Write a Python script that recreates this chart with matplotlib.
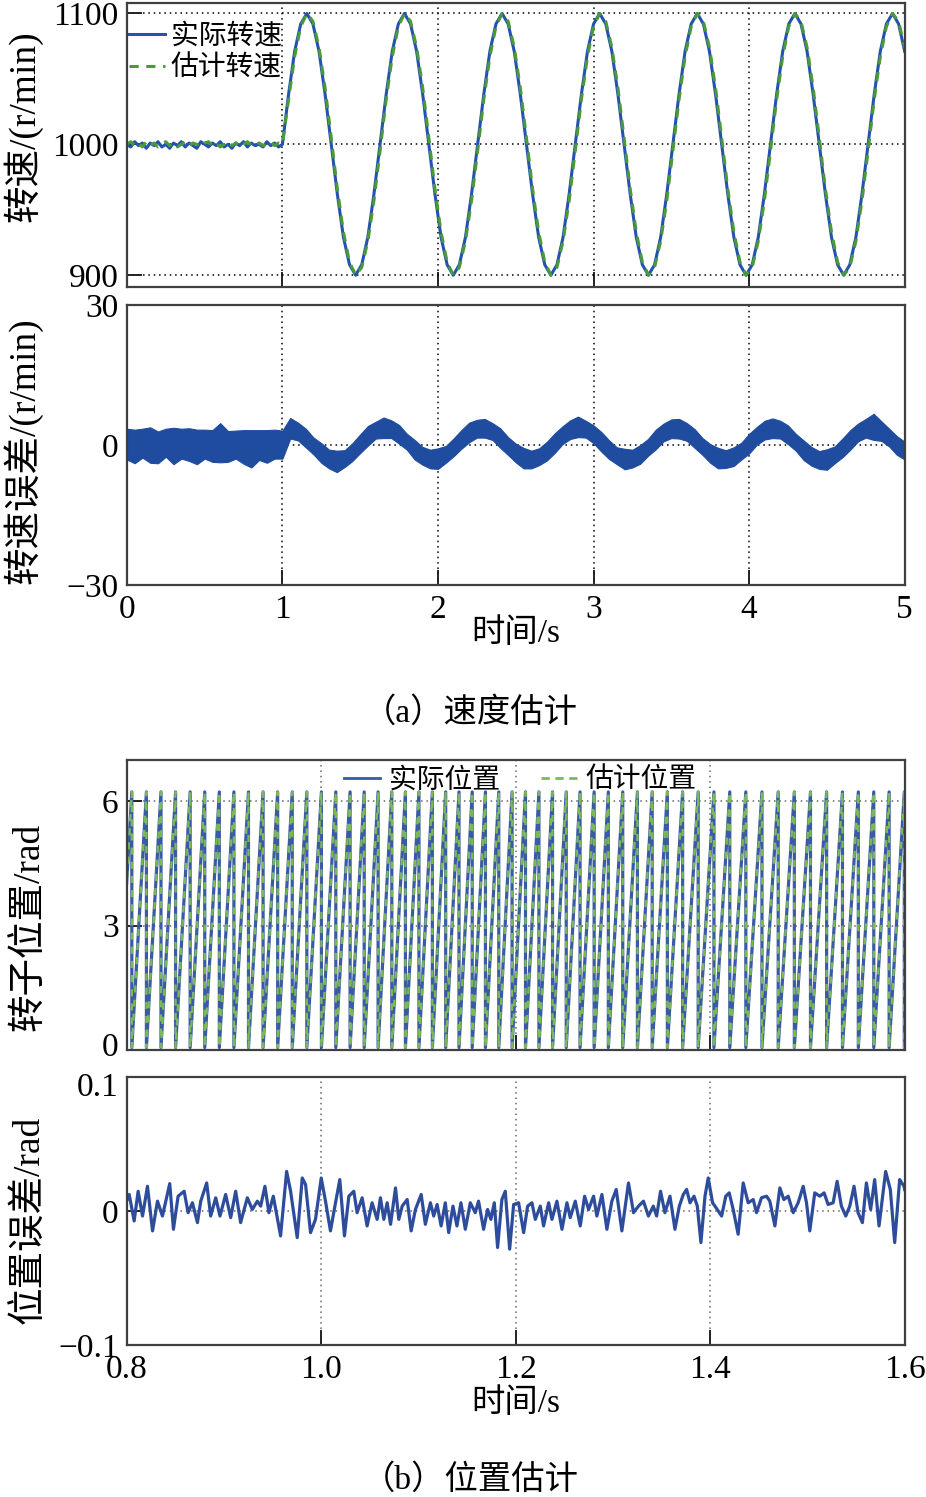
import matplotlib
matplotlib.use('Agg')
import matplotlib.pyplot as plt
import matplotlib.transforms as mtransforms
import numpy as np
from matplotlib.lines import Line2D

plt.rcParams['font.family'] = ['Liberation Serif', 'Noto Sans CJK SC']
plt.rcParams['axes.unicode_minus'] = True

# ---------------- data ----------------
# (a) speed, 0-1 s steady part (41 samples, 0.025 s apart)
flat_actual = [1000, 998, 1002, 999, 1001, 997, 1001, 999, 1002, 998, 1000,
               997, 1001, 999, 1002, 998, 1001, 999, 997, 1002, 1000,
               998, 1001, 999, 1002, 998, 1000, 997, 1001, 999, 1002,
               998, 1001, 999, 1000, 998, 1002, 999, 1001, 998, 1000]
flat_est = [1000, 1002, 999, 1001, 998, 1002, 999, 1001, 998, 1000, 1002,
            999, 1001, 998, 1000, 1002, 999, 1001, 1000, 998, 1001,
            1002, 999, 1001, 998, 1000, 1002, 999, 1001, 998, 1000,
            1002, 999, 1000, 1001, 999, 1000, 1002, 999, 1001, 1000]
# (a) speed, 1-5 s sinusoidal part (103 samples evenly spread)
speed_actual = [
    1000, 1038, 1071, 1092, 1100, 1092, 1071, 1038, 1000, 962, 929, 908, 900, 908, 929, 962,
    1000, 1038, 1071, 1092, 1100, 1092, 1071, 1038, 1000, 962, 929, 908, 900, 908, 929, 962,
    1000, 1038, 1071, 1092, 1100, 1092, 1071, 1038, 1000, 962, 929, 908, 900, 908, 929, 962,
    1000, 1038, 1071, 1092, 1100, 1092, 1071, 1038, 1000, 962, 929, 908, 900, 908, 929, 962,
    1000, 1038, 1071, 1092, 1100, 1092, 1071, 1038, 1000, 962, 929, 908, 900, 908, 929, 962,
    1000, 1038, 1071, 1092, 1100, 1092, 1071, 1038, 1000, 962, 929, 908, 900, 908, 929, 962,
    1000, 1038, 1071, 1092, 1100, 1092, 1071]
speed_est = [
    1000, 1034, 1067, 1090, 1100, 1094, 1074, 1043, 1005, 966, 933, 910, 900, 906, 926, 957,
    995, 1034, 1067, 1090, 1100, 1094, 1074, 1043, 1005, 966, 933, 910, 900, 906, 926, 957,
    995, 1034, 1067, 1090, 1100, 1094, 1074, 1043, 1005, 966, 933, 910, 900, 906, 926, 957,
    995, 1034, 1067, 1090, 1100, 1094, 1074, 1043, 1005, 966, 933, 910, 900, 906, 926, 957,
    995, 1034, 1067, 1090, 1100, 1094, 1074, 1043, 1005, 966, 933, 910, 900, 906, 926, 957,
    995, 1034, 1067, 1090, 1100, 1094, 1074, 1043, 1005, 966, 933, 910, 900, 906, 926, 957,
    995, 1034, 1067, 1090, 1100, 1094, 1074]

# (a) speed error band: middle and half-thickness, 0-5 s every 0.05 s
err_mid = [0.2, -0.3, 0.4, 0.0, -0.5, 0.5, -0.2, 0.3, 0.1, -0.4, 0.2,
           -0.2, 0.5, -0.3, 0.1, -0.4, -0.8, 0.0, -0.3, 0.2, 0.1,
           3.6, 2.9, 1.5, -0.2, -1.7, -3.0, -3.5, -2.9, -1.5, 0.3, 2.0, 3.2, 3.7,
           3.4, 2.3, 0.7, -1.0, -2.3, -3.0, -2.9, -2.0, -0.5, 1.2, 2.7, 3.5,
           3.6, 2.9, 1.5, -0.2, -1.7, -2.8, -3.1, -2.5, -1.3, 0.4, 2.1, 3.3, 3.9,
           3.4, 2.3, 0.7, -1.0, -2.3, -3.0, -2.9, -2.0, -0.5, 1.2, 2.7, 3.5,
           3.5, 2.8, 1.4, -0.3, -1.8, -2.8, -3.0, -2.5, -1.3, 0.3, 2.0, 3.2, 3.6,
           3.3, 2.2, 0.6, -1.1, -2.4, -3.2, -3.1, -2.1, -0.6, 1.1, 2.7, 3.6,
           3.9, 3.0, 1.6, -0.1, -1.2]
err_spread = [3.3, 3.6, 3.1, 3.8, 3.4, 3.0, 3.9, 3.2, 3.5, 3.7, 3.1,
              3.4, 4.2, 3.3, 3.0, 3.6, 4.0, 3.2, 3.5, 3.1, 3.0,
              2.2, 1.9, 2.0, 1.8, 2.1, 2.0, 2.3, 1.8, 1.9, 2.0, 2.1, 1.8, 2.2,
              1.9, 2.0, 1.7, 2.1, 1.9, 2.0, 2.2, 1.8, 1.9, 2.0, 2.1, 1.9,
              2.0, 1.8, 2.1, 1.9, 2.0, 2.2, 1.9, 1.8, 2.0, 2.1, 1.9, 2.0, 2.2,
              1.8, 1.9, 2.1, 2.0, 1.8, 2.2, 1.9, 2.0, 1.8, 2.1, 1.9, 2.0,
              2.1, 1.9, 2.0, 1.8, 2.0, 2.2, 1.9, 2.0, 1.8, 2.1, 1.9, 2.0, 2.1,
              1.9, 2.0, 1.8, 2.1, 2.0, 1.9, 2.2, 1.8, 2.0, 2.1, 1.9, 2.0,
              2.8, 2.1, 1.9, 2.0, 1.9]

# (b) rotor position: instants where the angle wraps from 2*pi back to 0
wrap_times = [0.7901, 0.8051, 0.8201, 0.8351, 0.8501, 0.8651, 0.8801, 0.8951, 0.9101,
              0.9251, 0.9401, 0.9551, 0.9701, 0.9851, 1.0001, 1.0149, 1.0296, 1.0441,
              1.0584, 1.0725, 1.0865, 1.1004, 1.1142, 1.1279, 1.1416, 1.1552, 1.1688,
              1.1825, 1.1962, 1.2100, 1.2238, 1.2378, 1.2519, 1.2661, 1.2806, 1.2952,
              1.3100, 1.3251, 1.3403, 1.3559, 1.3716, 1.3876, 1.4038, 1.4201, 1.4366,
              1.4532, 1.4699, 1.4865, 1.5031, 1.5197, 1.5360, 1.5523, 1.5682, 1.5840,
              1.5996, 1.6150]
pos_low = 0.06
pos_high = 6.23

# (b) position error (rad), turning points
pos_err_t = [0.8000, 0.8024, 0.8075, 0.8116, 0.8161, 0.8212, 0.8264, 0.8315, 0.8366, 0.8441,
             0.8479, 0.8527, 0.8589, 0.8630, 0.8674, 0.8726, 0.8760, 0.8821, 0.8862, 0.8914,
             0.8958, 0.9016, 0.9068, 0.9119, 0.9170, 0.9239, 0.9290, 0.9342, 0.9376, 0.9420,
             0.9461, 0.9506, 0.9547, 0.9581, 0.9643, 0.9684, 0.9752, 0.9804, 0.9838, 0.9889,
             0.9940, 0.9999, 1.0043, 1.0094, 1.0146, 1.0190, 1.0238, 1.0283, 1.0334, 1.0368,
             1.0420, 1.0471, 1.0522, 1.0574,
             1.0608, 1.0643, 1.0677, 1.0712, 1.0763, 1.0797, 1.0832, 1.0883, 1.0924, 1.0968,
             1.1027, 1.1070, 1.1122, 1.1156, 1.1191, 1.1232, 1.1275, 1.1310, 1.1354, 1.1395,
             1.1436, 1.1481, 1.1532, 1.1583, 1.1617, 1.1669, 1.1710, 1.1744, 1.1779, 1.1813,
             1.1857, 1.1892, 1.1937, 1.1978, 1.2029, 1.2081, 1.2122, 1.2166, 1.2201, 1.2252,
             1.2286, 1.2338, 1.2372, 1.2423, 1.2475, 1.2526, 1.2560, 1.2612, 1.2663, 1.2708,
             1.2749, 1.2800, 1.2834, 1.2886, 1.2937, 1.2988, 1.3033, 1.3091, 1.3159, 1.3211,
             1.3262, 1.3313, 1.3364,
             1.3414, 1.3449, 1.3489, 1.3534, 1.3586, 1.3637, 1.3682, 1.3723, 1.3757, 1.3792,
             1.3833, 1.3867, 1.3904, 1.3946, 1.3979, 1.4024, 1.4072, 1.4117, 1.4160, 1.4195,
             1.4236, 1.4287, 1.4339, 1.4390, 1.4442, 1.4476, 1.4527, 1.4579, 1.4613, 1.4665,
             1.4716, 1.4757, 1.4802, 1.4853, 1.4904, 1.4956, 1.4990, 1.5024, 1.5075, 1.5127,
             1.5171, 1.5212, 1.5264, 1.5305, 1.5349, 1.5394, 1.5435, 1.5479, 1.5520, 1.5565,
             1.5606, 1.5650, 1.5691, 1.5736, 1.5804, 1.5852, 1.5897, 1.5948, 1.5993, 1.6000]
pos_err_v = [0.0080, 0.0124, -0.0074, 0.0148, -0.0037, 0.0185, -0.0148, 0.0074, -0.0037, 0.0205,
             -0.0136, 0.0111, 0.0148, -0.0012, 0.0062, -0.0086, 0.0074, 0.0210, -0.0037, 0.0099,
             -0.0037, 0.0124, -0.0049, 0.0148, -0.0086, 0.0099, 0.0012, 0.0074, 0.0037, 0.0185,
             -0.0012, 0.0111, -0.0049, -0.0185, 0.0296, 0.0148, -0.0198, 0.0247, 0.0198, -0.0161,
             -0.0062, 0.0247, 0.0074, -0.0148, 0.0062, 0.0235, -0.0185, 0.0111, 0.0148, -0.0012,
             0.0099, -0.0111, 0.0062, -0.0062,
             0.0099, -0.0062, 0.0062, -0.0099, 0.0173, -0.0062, 0.0037, 0.0086, -0.0148, 0.0012,
             0.0124, -0.0099, 0.0062, -0.0037, 0.0049, -0.0111, 0.0062, -0.0161, 0.0037, -0.0111,
             0.0062, -0.0136, 0.0062, -0.0012, 0.0074, -0.0136, 0.0012, -0.0062, 0.0062, -0.0272,
             0.0086, 0.0148, -0.0284, 0.0049, 0.0062, -0.0161, 0.0037, 0.0062, -0.0062, 0.0037,
             -0.0111, 0.0062, -0.0062, 0.0074, -0.0136, 0.0062, -0.0049, 0.0074, -0.0111, 0.0111,
             0.0012, 0.0111, -0.0037, 0.0124, -0.0136, 0.0074, 0.0161, -0.0148, 0.0210, -0.0012,
             0.0037, 0.0074, -0.0037,
             0.0037, -0.0037, 0.0148, -0.0012, 0.0111, -0.0136, 0.0037, 0.0124, 0.0161, 0.0062,
             0.0111, 0.0037, -0.0235, 0.0111, 0.0247, 0.0062, 0.0012, -0.0037, 0.0111, 0.0136,
             0.0012, -0.0173, 0.0210, 0.0062, 0.0086, -0.0012, 0.0099, 0.0111, 0.0074, -0.0111,
             0.0173, 0.0086, 0.0111, -0.0012, 0.0062, 0.0185, 0.0062, -0.0148, 0.0136, 0.0111,
             0.0136, 0.0049, 0.0062, 0.0222, 0.0037, -0.0037, 0.0037, 0.0185, -0.0012, -0.0086,
             0.0210, 0.0012, 0.0235, -0.0111, 0.0296, 0.0161, -0.0235, 0.0235, 0.0185, 0.0160]

# tick labels
speed_ticks = [900, 1000, 1100]
err_ticks = [-30, 0, 30]
err_ticklabels = ['\u221230', '0', '30']
t_ticks = [0, 1, 2, 3, 4, 5]
pos_ticks = [0, 3, 6]
pos_err_ticks = [-0.1, 0, 0.1]
pos_err_ticklabels = ['\u22120.1', '0', '0.1']
tb_ticks = [0.8, 1.0, 1.2, 1.4, 1.6]
tb_ticklabels = ['0.8', '1.0', '1.2', '1.4', '1.6']

# ---------------- styling ----------------
blue = '#2452ad'
green = '#4a9a3c'
err_blue = '#1f4c9f'
pos_blue = '#3a5aa6'
pos_green = '#7cb85a'
spine_c = '#404040'
tick_fs = 24
lab_fs = 27


def style_axes(ax, grid_color='black'):
    for s in ax.spines.values():
        s.set_color(spine_c)
        s.set_linewidth(1.6)
    ax.tick_params(direction='in', length=11, width=1.4, color='#222222',
                   labelsize=tick_fs, top=False, right=False)
    ax.tick_params(axis='x', pad=7)
    ax.tick_params(axis='y', pad=6)
    ax.grid(True, color=grid_color, linestyle=(0, (1, 2.5)), linewidth=1.1)
    ax.set_axisbelow(True)


def nudge(label, dy_pt):
    # shift a tick label vertically by a few points
    label.set_transform(label.get_transform() +
                        mtransforms.ScaledTranslation(0, dy_pt / 72, fig.dpi_scale_trans))


fig = plt.figure(figsize=(9.26, 14.97), dpi=100)
L, W = 0.137, 0.840
ax1 = fig.add_axes([L, 0.8083, W, 0.1897])
ax2 = fig.add_axes([L, 0.6092, W, 0.1870])
ax3 = fig.add_axes([L, 0.2986, W, 0.1937])
ax4 = fig.add_axes([L, 0.1015, W, 0.1790])

# ---- (a) speed ----
t_flat = np.linspace(0, 1, len(flat_actual))
t_sine = np.linspace(1, 5, len(speed_actual))
ax1.plot(np.concatenate([t_flat, t_sine]), flat_actual + speed_actual,
         color=blue, lw=2.2, label='实际转速')
ax1.plot(np.concatenate([t_flat, t_sine]), flat_est + speed_est,
         color=green, lw=2.2, dashes=(3, 2.5), label='估计转速')
ax1.set_xlim(0, 5)
ax1.set_ylim(891, 1108)
ax1.set_xticks(t_ticks)
ax1.set_xticklabels([])
ax1.set_yticks(speed_ticks)
style_axes(ax1)
ax1.set_ylabel('转速/(r/min)', fontsize=lab_fs)
ax1.yaxis.set_label_coords(-0.108, 0.567)
ax1.legend(loc='upper left', bbox_to_anchor=(-0.022, 0.995), frameon=False,
           fontsize=20, handlelength=1.3, handletextpad=0.2, labelspacing=0.22,
           borderpad=0.2)

# ---- (a) speed error ----
t_err = np.linspace(0, 5, len(err_mid))
mid = np.array(err_mid)
spread = np.array(err_spread)
ax2.fill_between(t_err, mid - spread, mid + spread, color=err_blue, lw=0.8,
                 edgecolor=err_blue)
ax2.set_xlim(0, 5)
ax2.set_ylim(-30, 30)
ax2.set_xticks(t_ticks)
ax2.set_yticks(err_ticks)
ax2.set_yticklabels(err_ticklabels)
style_axes(ax2)
ax2.set_ylabel('转速误差/(r/min)', fontsize=lab_fs)
ax2.yaxis.set_label_coords(-0.108, 0.48)
ax2.set_xlabel('时间/s', fontsize=24)
ax2.xaxis.set_label_coords(0.5, -0.12)

fig.text(0.508, 0.524, '（a）速度估计', fontsize=24, ha='center', va='center')

# ---- (b) rotor position ----
saw_t, saw_v = [], []
for a, b in zip(wrap_times[:-1], wrap_times[1:]):
    saw_t += [a, b]
    saw_v += [pos_low, pos_high]
ax3.plot(saw_t, saw_v, color=pos_blue, lw=2.3, label='实际位置')
ax3.plot(saw_t, saw_v, color=pos_green, lw=1.7, dashes=(3, 3), label='估计位置')
ax3.set_xlim(0.8, 1.6)
ax3.set_ylim(0, 7)
ax3.set_xticks(tb_ticks)
ax3.set_xticklabels([])
ax3.set_yticks(pos_ticks)
style_axes(ax3, grid_color='#666666')
ax3.set_ylabel('转子位置/rad', fontsize=lab_fs)
ax3.yaxis.set_label_coords(-0.102, 0.424)
leg_handles = [Line2D([], [], color=pos_blue, lw=2),
               Line2D([], [], color=pos_green, lw=2, dashes=(3, 2))]
ax3.legend(leg_handles, ['实际位置', '估计位置'], loc='center',
           bbox_to_anchor=(0.506, 0.93), ncol=2, frameon=False, fontsize=20,
           handlelength=1.3, handletextpad=0.3, columnspacing=1.5)

# ---- (b) position error ----
ax4.plot(pos_err_t, pos_err_v, color='#2d4d9c', lw=2.3)
ax4.set_xlim(0.8, 1.6)
ax4.set_ylim(-0.1, 0.1)
ax4.set_xticks(tb_ticks)
ax4.set_xticklabels(tb_ticklabels)
ax4.set_yticks(pos_err_ticks)
ax4.set_yticklabels(pos_err_ticklabels)
style_axes(ax4, grid_color='#666666')
ax4.set_ylabel('位置误差/rad', fontsize=lab_fs)
ax4.yaxis.set_label_coords(-0.102, 0.466)
ax4.set_xlabel('时间/s', fontsize=24)
ax4.xaxis.set_label_coords(0.5, -0.16)

# keep the stacked "0" and "0.1" labels between panels apart
nudge(ax3.get_yticklabels()[0], 4)
nudge(ax4.get_yticklabels()[-1], -5)

fig.text(0.508, 0.0114, '（b）位置估计', fontsize=24, ha='center', va='center')

fig.savefig('out.png', dpi=100)
